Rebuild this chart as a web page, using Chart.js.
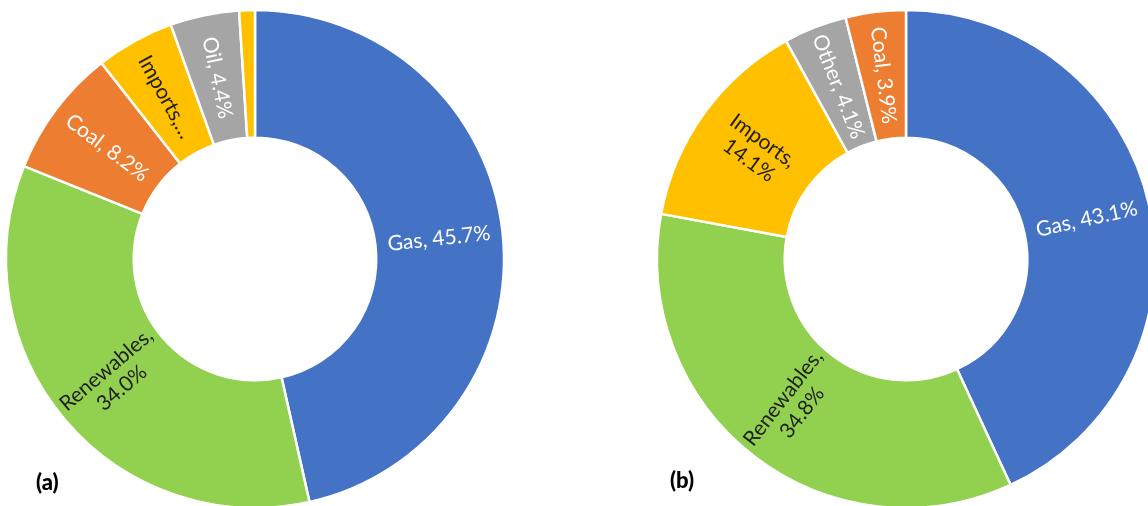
<!DOCTYPE html>
<html>
<head>
<meta charset="utf-8">
<script src="https://cdn.jsdelivr.net/npm/chart.js@4/dist/chart.umd.min.js"></script>
<style>
  html, body { margin: 0; padding: 0; background: #fff; }
  body { width: 1148px; height: 506px; overflow: hidden; position: relative; }
  canvas { position: absolute; }
  #chartA { left: -5px; top: -1px; }
  #chartB { left: 646px; top: -1px; }
  .tag { position: absolute; font: 900 22px Lato, sans-serif; color: #000; }
</style>
</head>
<body>
<canvas id="chartA" width="520" height="520"></canvas>
<canvas id="chartB" width="520" height="520"></canvas>
<div class="tag" style="left:36px; top:468px;">(a)</div>
<div class="tag" style="left:670px; top:466px;">(b)</div>
<script>
// (a) shares, clockwise from 12 o'clock
const labelsA = ["Gas", "Renewables", "Coal", "Imports", "Oil", "Other"];
const valuesA = [45.7, 34.0, 8.2, 5.0, 4.4, 1.0];
const colorsA = ["#4472C4", "#92D050", "#ED7D31", "#FFC000", "#A5A5A5", "#FFC000"];

// (b) shares
const labelsB = ["Gas", "Renewables", "Imports", "Other", "Coal"];
const valuesB = [43.1, 34.8, 14.1, 4.1, 3.9];
const colorsB = ["#4472C4", "#92D050", "#FFC000", "#A5A5A5", "#ED7D31"];

const WHITE = "#ffffff";
const DARK = "#1e1e1e";

function pct(v) { return v.toFixed(1) + "%"; }

// text for each slice, as lines (null = no label)
function textA(i) {
    const l = labelsA[i], v = valuesA[i];
    if (l === "Renewables") return [l + ",", pct(v)];
    if (l === "Imports") return [l + ",\u2026"];
    if (l === "Other") return null;
    return [l + ", " + pct(v)];
}
function textB(i) {
    const l = labelsB[i], v = valuesB[i];
    if (l === "Renewables" || l === "Imports") return [l + ",", pct(v)];
    return [l + ", " + pct(v)];
}

function inkFor(c) {
    return (c === "#92D050" || c === "#FFC000") ? DARK : WHITE;
}

const sliceText = {
    id: "sliceText",
    afterDatasetsDraw(chart, args, opts) {
        const ctx = chart.ctx;
        const meta = chart.getDatasetMeta(0);
        meta.data.forEach((arc, i) => {
            const lines = opts.text(i);
            if (!lines) return;
            const p = arc.getProps(["x", "y", "startAngle", "endAngle", "innerRadius", "outerRadius"], true);
            const mid = (p.startAngle + p.endAngle) / 2;
            const r = (p.innerRadius + p.outerRadius) / 2;
            const cx = p.x + Math.cos(mid) * r;
            const cy = p.y + Math.sin(mid) * r;
            let rot = mid;
            if (Math.cos(mid) < 0) rot += Math.PI;
            ctx.save();
            ctx.translate(cx, cy);
            ctx.rotate(rot);
            ctx.font = "21px Lato, sans-serif";
            ctx.fillStyle = inkFor(opts.colors[i]);
            ctx.textAlign = "center";
            ctx.textBaseline = "middle";
            const lh = 24;
            lines.forEach((t, k) => {
                ctx.fillText(t, 0, (k - (lines.length - 1) / 2) * lh);
            });
            ctx.restore();
        });
    }
};

function makeDonut(id, labels, values, colors, text) {
    return new Chart(document.getElementById(id), {
        type: "doughnut",
        data: {
            labels: labels,
            datasets: [{
                data: values,
                backgroundColor: colors,
                borderColor: "#ffffff",
                borderWidth: 2.5
            }]
        },
        options: {
            responsive: false,
            animation: false,
            devicePixelRatio: 1,
            radius: 249,
            cutout: 126,
            layout: { padding: 0 },
            plugins: {
                legend: { display: false },
                tooltip: { enabled: false },
                sliceText: { text: text, colors: colors }
            }
        },
        plugins: [sliceText]
    });
}

makeDonut("chartA", labelsA, valuesA, colorsA, textA);
makeDonut("chartB", labelsB, valuesB, colorsB, textB);
</script>
</body>
</html>
